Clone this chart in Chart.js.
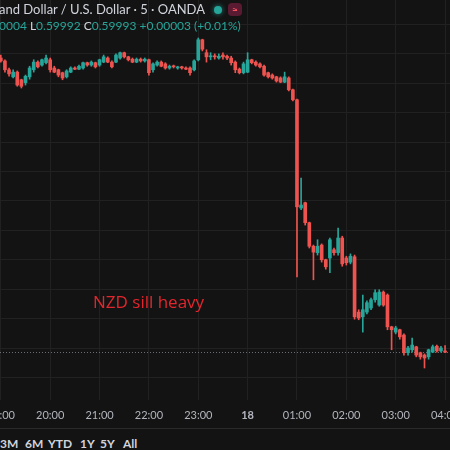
<!DOCTYPE html>
<html><head><meta charset="utf-8">
<script src="https://cdn.jsdelivr.net/npm/chart.js@4/dist/chart.umd.min.js"></script>
<style>
html,body{margin:0;padding:0;background:#131313;overflow:hidden;}
#wrap{position:relative;width:450px;height:450px;background:#131313;font-family:'Lato',sans-serif;overflow:hidden;}
#c{position:absolute;left:0;top:0;}
.hdr{position:absolute;white-space:nowrap;}
#h1{left:-1px;top:1px;color:#d1d4dc;font-size:13px;}
#h2{left:-1px;top:18px;color:#26a69a;font-size:12px;}
#h2 .k{color:#d1d4dc;}
#dot{position:absolute;left:214px;top:6px;width:8px;height:8px;border-radius:50%;background:#26a69a;box-shadow:0 0 4px 1px rgba(38,166,154,0.5);}
#badge{position:absolute;left:228px;top:3px;width:14px;height:13px;border-radius:4px;background:#5a1a31;color:#f7525f;font-size:11px;line-height:13px;text-align:center;}
#sep{position:absolute;left:0;top:428px;width:450px;height:1px;background:#2a2a2a;}
.tb{position:absolute;top:436px;color:#d1d4dc;font-size:12px;font-weight:bold;}
#note{position:absolute;left:93px;top:290px;color:#e3262d;font-family:'Open Sans',sans-serif;font-size:17px;white-space:nowrap;}
</style>
</head><body>
<div id="wrap">
<canvas id="c" width="450" height="428"></canvas>
<div class="hdr" id="h1">and Dollar / U.S. Dollar · 5 · OANDA</div>
<div class="hdr" id="h2">0004 <span class="k">L</span>0.59992 <span class="k">C</span>0.59993 +0.00003 (+0.01%)</div>
<div id="dot"></div>
<div id="badge">≈</div>
<div id="note">NZD sill heavy</div>
<div id="sep"></div>
<span class="tb" style="left:0px">3M</span>
<span class="tb" style="left:25px">6M</span>
<span class="tb" style="left:48px">YTD</span>
<span class="tb" style="left:80px">1Y</span>
<span class="tb" style="left:100px">5Y</span>
<span class="tb" style="left:123px">All</span>
</div>
<script>
// 5-minute candles, NZD/USD, starting 19:00
const startHour = 19;
const candleMinutes = 5;

const opens = [
0.60493,0.60488,0.60473,0.60461,0.60469,0.60456,0.60451,0.60461,0.60473,0.60486,
0.60481,0.60485,0.60490,0.60476,0.60473,0.60468,0.60461,0.60469,0.60476,0.60474,
0.60476,0.60485,0.60481,0.60485,0.60481,0.60486,0.60493,0.60486,0.60486,0.60493,
0.60502,0.60495,0.60491,0.60486,0.60491,0.60488,0.60490,0.60473,0.60481,0.60486,
0.60483,0.60476,0.60479,0.60476,0.60478,0.60476,0.60476,0.60473,0.60490,0.60524,
0.60502,0.60495,0.60496,0.60493,0.60498,0.60496,0.60493,0.60486,0.60474,0.60468,
0.60469,0.60490,0.60486,0.60483,0.60479,0.60468,0.60464,0.60461,0.60459,0.60452,
0.60459,0.60439,0.60422,0.60238,0.60247,0.60213,0.60173,0.60162,0.60175,0.60150,
0.60153,0.60167,0.60162,0.60187,0.60153,0.60146,0.60155,0.60061,0.60053,0.60061,
0.60068,0.60082,0.60073,0.60095,0.60090,0.60036,0.60027,0.60031,0.60022,0.59992,
0.59997,0.60002,0.59992,0.59988,0.59985,0.59993,0.60003,0.59995,0.59995];

const highs = [
0.60498,0.60490,0.60476,0.60473,0.60471,0.60457,0.60464,0.60479,0.60490,0.60488,
0.60491,0.60498,0.60493,0.60479,0.60474,0.60469,0.60473,0.60478,0.60478,0.60481,
0.60486,0.60486,0.60488,0.60486,0.60491,0.60498,0.60495,0.60488,0.60500,0.60503,
0.60503,0.60496,0.60493,0.60493,0.60493,0.60493,0.60491,0.60485,0.60488,0.60488,
0.60485,0.60481,0.60481,0.60479,0.60479,0.60478,0.60478,0.60490,0.60527,0.60525,
0.60507,0.60502,0.60500,0.60500,0.60502,0.60498,0.60496,0.60488,0.60476,0.60486,
0.60502,0.60491,0.60488,0.60485,0.60481,0.60469,0.60466,0.60462,0.60461,0.60469,
0.60461,0.60440,0.60423,0.60289,0.60248,0.60214,0.60175,0.60184,0.60177,0.60151,
0.60187,0.60170,0.60204,0.60190,0.60156,0.60160,0.60158,0.60065,0.60090,0.60080,
0.60085,0.60099,0.60099,0.60097,0.60092,0.60037,0.60037,0.60032,0.60024,0.60003,
0.60017,0.60003,0.59993,0.59990,0.59998,0.60005,0.60005,0.60003,0.60004];

const lows = [
0.60486,0.60469,0.60462,0.60459,0.60445,0.60442,0.60447,0.60457,0.60469,0.60476,
0.60479,0.60483,0.60469,0.60468,0.60461,0.60456,0.60459,0.60468,0.60473,0.60473,
0.60474,0.60479,0.60479,0.60476,0.60479,0.60485,0.60485,0.60476,0.60485,0.60491,
0.60493,0.60488,0.60485,0.60485,0.60486,0.60486,0.60464,0.60469,0.60479,0.60478,
0.60474,0.60474,0.60476,0.60474,0.60474,0.60473,0.60464,0.60471,0.60488,0.60505,
0.60486,0.60490,0.60491,0.60491,0.60491,0.60490,0.60481,0.60468,0.60466,0.60466,
0.60468,0.60483,0.60479,0.60476,0.60462,0.60459,0.60457,0.60452,0.60451,0.60451,
0.60437,0.60420,0.60121,0.60235,0.60209,0.60170,0.60116,0.60158,0.60146,0.60134,
0.60128,0.60158,0.60158,0.60139,0.60141,0.60143,0.60049,0.60048,0.60027,0.60058,
0.60065,0.60078,0.60071,0.60071,0.60031,0.59997,0.60024,0.60015,0.59988,0.59988,
0.59993,0.59985,0.59981,0.59966,0.59981,0.59992,0.59993,0.59993,0.59992];

const closes = [
0.60488,0.60473,0.60466,0.60469,0.60447,0.60445,0.60462,0.60476,0.60486,0.60478,
0.60490,0.60493,0.60473,0.60469,0.60464,0.60459,0.60471,0.60476,0.60474,0.60479,
0.60485,0.60481,0.60486,0.60478,0.60490,0.60495,0.60486,0.60478,0.60498,0.60502,
0.60495,0.60490,0.60486,0.60491,0.60488,0.60491,0.60468,0.60483,0.60486,0.60479,
0.60476,0.60479,0.60478,0.60478,0.60476,0.60474,0.60468,0.60488,0.60524,0.60508,
0.60495,0.60496,0.60495,0.60496,0.60495,0.60493,0.60485,0.60473,0.60468,0.60483,
0.60490,0.60485,0.60481,0.60478,0.60464,0.60461,0.60459,0.60454,0.60452,0.60461,
0.60439,0.60422,0.60240,0.60243,0.60213,0.60173,0.60163,0.60173,0.60150,0.60138,
0.60184,0.60162,0.60187,0.60143,0.60145,0.60156,0.60053,0.60051,0.60065,0.60077,
0.60082,0.60094,0.60095,0.60073,0.60036,0.60031,0.60034,0.60019,0.59992,0.60000,
0.60005,0.59988,0.59985,0.59983,0.59997,0.60002,0.59995,0.60000,0.59993];

// time-axis ticks (minutes after 19:00) and their labels
const hourTickMinutes = [0,60,120,180,240,300,360,420,480,540];
const hourTickLabels = ['19:00','20:00','21:00','22:00','23:00','18','01:00','02:00','03:00','04:00'];
// horizontal price grid levels (price axis itself is off-screen)
const priceGridLevels = [0.5995,0.6000,0.6005,0.6010,0.6015,0.6020,0.6025,0.6030,0.6035,0.6040,0.6045,0.6050,0.6055];

const UP = '#26a69a', DOWN = '#ef5350', GRID = '#212121';
const xs = opens.map((_, i) => i * candleMinutes);
const colors = closes.map((c, i) => c >= opens[i] ? UP : DOWN);
const lastClose = closes[closes.length - 1];

const priceLine = {
  id: 'priceLine',
  beforeDatasetsDraw(chart) {
    const {ctx, chartArea, scales} = chart;
    const y = Math.round(scales.y.getPixelForValue(lastClose)) + 0.5;
    ctx.save();
    ctx.strokeStyle = '#6a6d74';
    ctx.lineWidth = 1;
    ctx.setLineDash([1, 2]);
    ctx.beginPath();
    ctx.moveTo(chartArea.left, y);
    ctx.lineTo(chartArea.right, y);
    ctx.stroke();
    ctx.restore();
  }
};

new Chart(document.getElementById('c'), {
  type: 'bar',
  data: {
    datasets: [
      { label: 'body', data: xs.map((x, i) => ({x, y: [opens[i], closes[i]]})),
        backgroundColor: colors, barThickness: 3, minBarLength: 1, grouped: false },
      { label: 'wick', data: xs.map((x, i) => ({x, y: [lows[i], highs[i]]})),
        backgroundColor: colors, barThickness: 1, grouped: false }
    ]
  },
  options: {
    responsive: false, animation: false, devicePixelRatio: 1,
    layout: {padding: 0},
    plugins: {legend: {display: false}, tooltip: {enabled: false}},
    scales: {
      x: {
        type: 'linear', min: -1, max: 546, offset: false,
        grid: {color: GRID, drawTicks: false, offset: false},
        border: {display: false},
        ticks: {
          color: '#b2b5be', padding: 9, maxRotation: 0, autoSkip: false,
          font: (c) => ({family: 'Lato', size: 11, weight: (c.tick && c.tick.value === 300) ? 'bold' : 'normal'}),
          callback: (v) => { const k = hourTickMinutes.indexOf(v); return k >= 0 ? hourTickLabels[k] : ''; }
        },
        afterBuildTicks: (s) => { s.ticks = hourTickMinutes.map(v => ({value: v})); },
        afterFit: (s) => { s.height = 28; s.paddingLeft = 0; s.paddingRight = 0; }
      },
      y: {
        position: 'right', min: 0.599116, max: 0.605916,
        grid: {color: GRID, drawTicks: false},
        border: {display: false},
        ticks: {display: false},
        afterBuildTicks: (s) => { s.ticks = priceGridLevels.map(v => ({value: v})); },
        afterFit: (s) => { s.width = 0; }
      }
    }
  },
  plugins: [priceLine]
});
</script>
</body></html>
